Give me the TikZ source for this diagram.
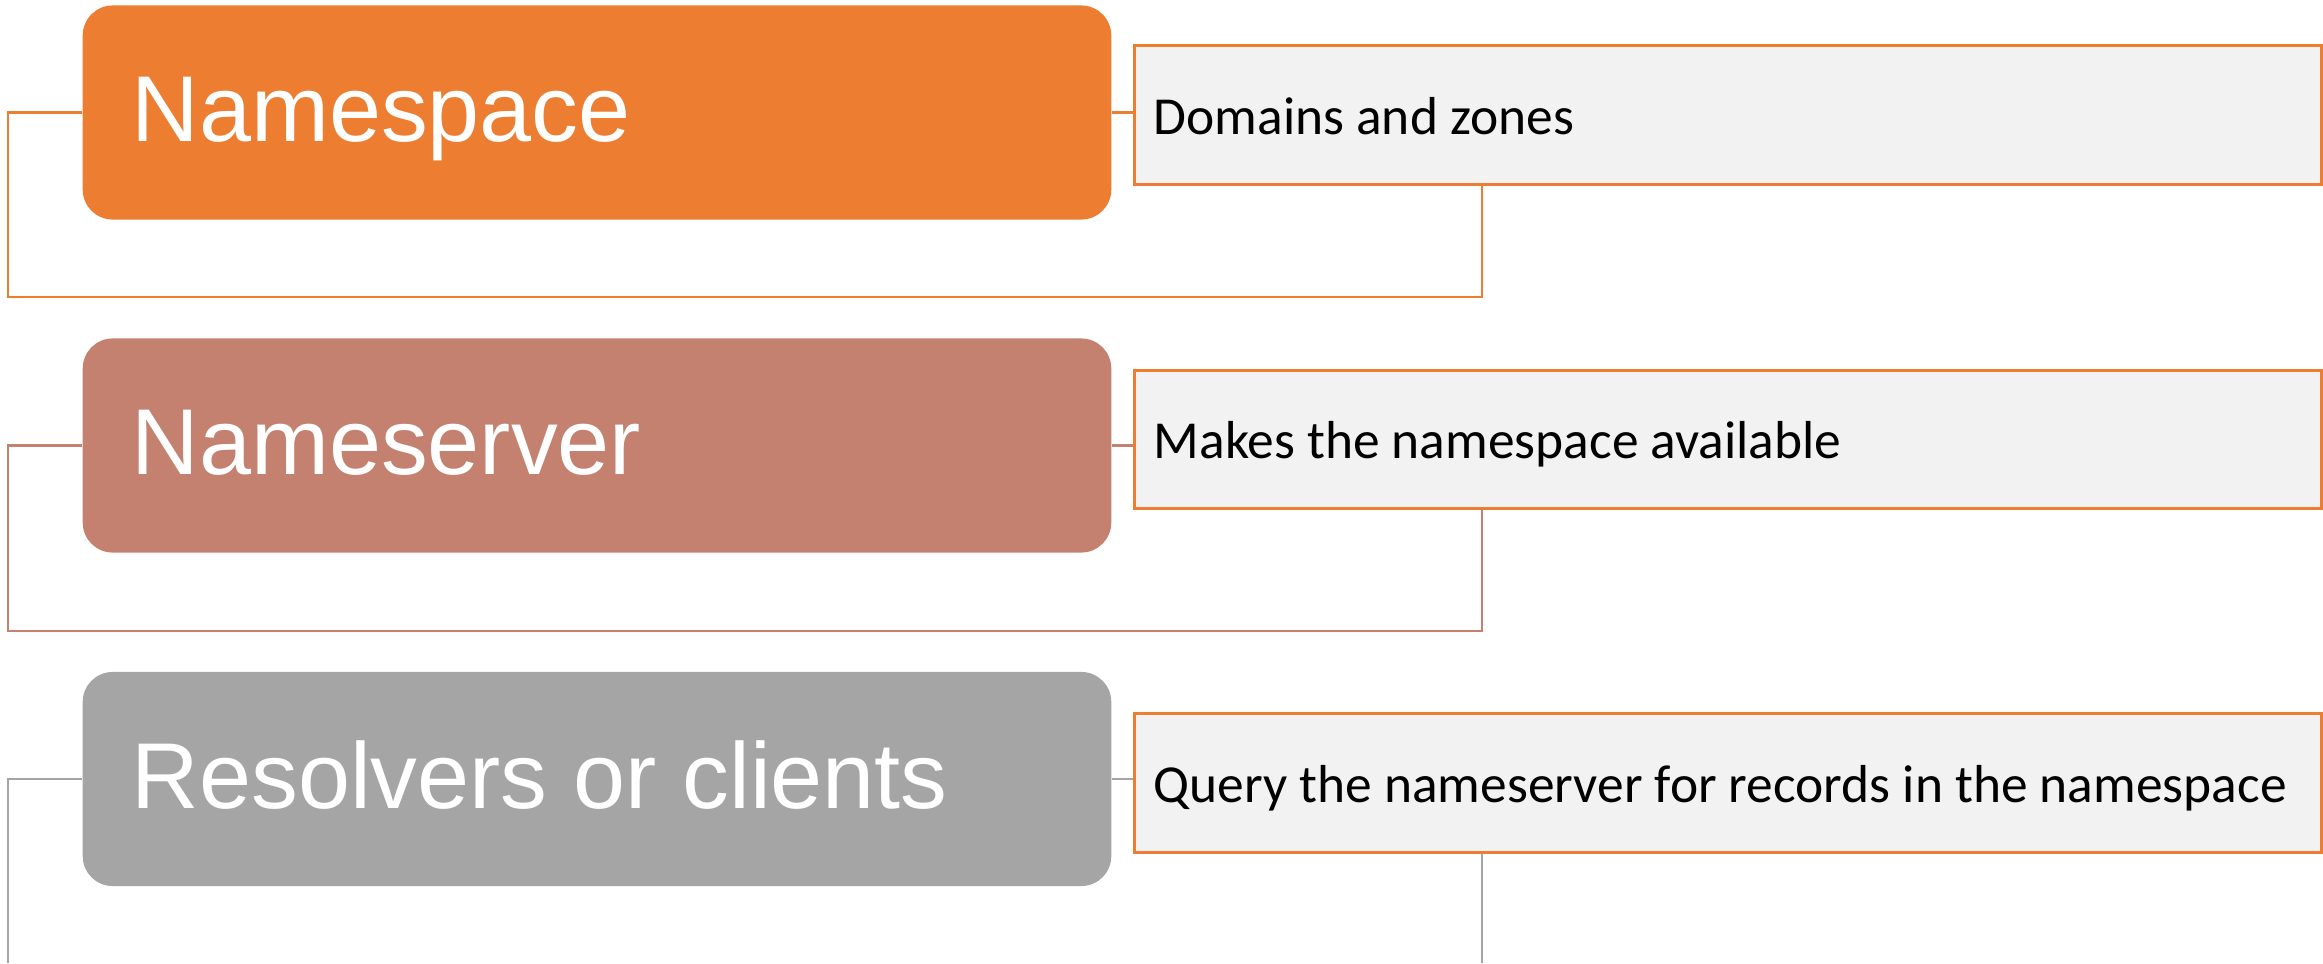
\documentclass[tikz,border=0pt]{standalone}
\usepackage{fontspec}
\setmainfont{Liberation Sans}
\newfontfamily\calib{Carlito}
\definecolor{lvlA}{HTML}{ED7D31}
\definecolor{lvlB}{HTML}{C48170}
\definecolor{lvlC}{HTML}{A5A5A5}
\definecolor{tfill}{HTML}{F2F2F2}
\tikzset{
  bigbox/.style={rectangle, rounded corners=0.3cm, draw=none, minimum width=10.28cm, minimum height=2.14cm, inner sep=0pt},
  bigtext/.style={anchor=base west, inner sep=0pt, text=white, font=\fontsize{26.6}{30}\selectfont},
  txtbox/.style={rectangle, draw=lvlA, line width=0.85pt, fill=tfill, minimum width=11.86cm, minimum height=1.38cm, inner sep=0pt},
  smalltext/.style={anchor=base west, inner sep=0pt, text=black, font=\calib\fontsize{15.2}{18}\selectfont},
  conn/.style={line width=0.75pt}
}
\begin{document}
\begin{tikzpicture}[x=0.01cm,y=-0.01cm]
\useasboundingbox (0,0) rectangle (2323,963);
% level 1
\node[bigbox, fill=lvlA] (b1) at (597,112.5) {};
\node[txtbox] (t1) at (1728,115) {};
\node[bigtext] (n1) at (131,141) {Namespace};
\node[smalltext] (s1) at (1153,134) {Domains and zones};
\coordinate (L1) at (8,297);
\coordinate (R1) at (1482,297);
\draw[conn, lvlA] (b1.east) -- (b1.east -| t1.west);
\draw[conn, lvlA] (b1.west) -| (L1) -- (R1) -- (R1 |- t1.south);
% level 2
\node[bigbox, fill=lvlB] (b2) at (597,445.5) {};
\node[txtbox] (t2) at (1728,439.5) {};
\node[bigtext] (n2) at (131,474) {Nameserver};
\node[smalltext] (s2) at (1153,458) {Makes the namespace available};
\coordinate (L2) at (8,631);
\coordinate (R2) at (1482,631);
\draw[conn, lvlB] (b2.east) -- (b2.east -| t2.west);
\draw[conn, lvlB] (b2.west) -| (L2) -- (R2) -- (R2 |- t2.south);
% level 3
\node[bigbox, fill=lvlC] (b3) at (597,779) {};
\node[txtbox] (t3) at (1728,783) {};
\node[bigtext] (n3) at (131,808) {Resolvers or clients};
\node[smalltext] (s3) at (1153,802) {Query the nameserver for records in the namespace};
\coordinate (L3) at (8,963);
\coordinate (R3) at (1482,963);
\draw[conn, lvlC] (b3.east) -- (b3.east -| t3.west);
\draw[conn, lvlC] (b3.west) -| (L3);
\draw[conn, lvlC] (R3 |- t3.south) -- (R3);
\end{tikzpicture}
\end{document}
